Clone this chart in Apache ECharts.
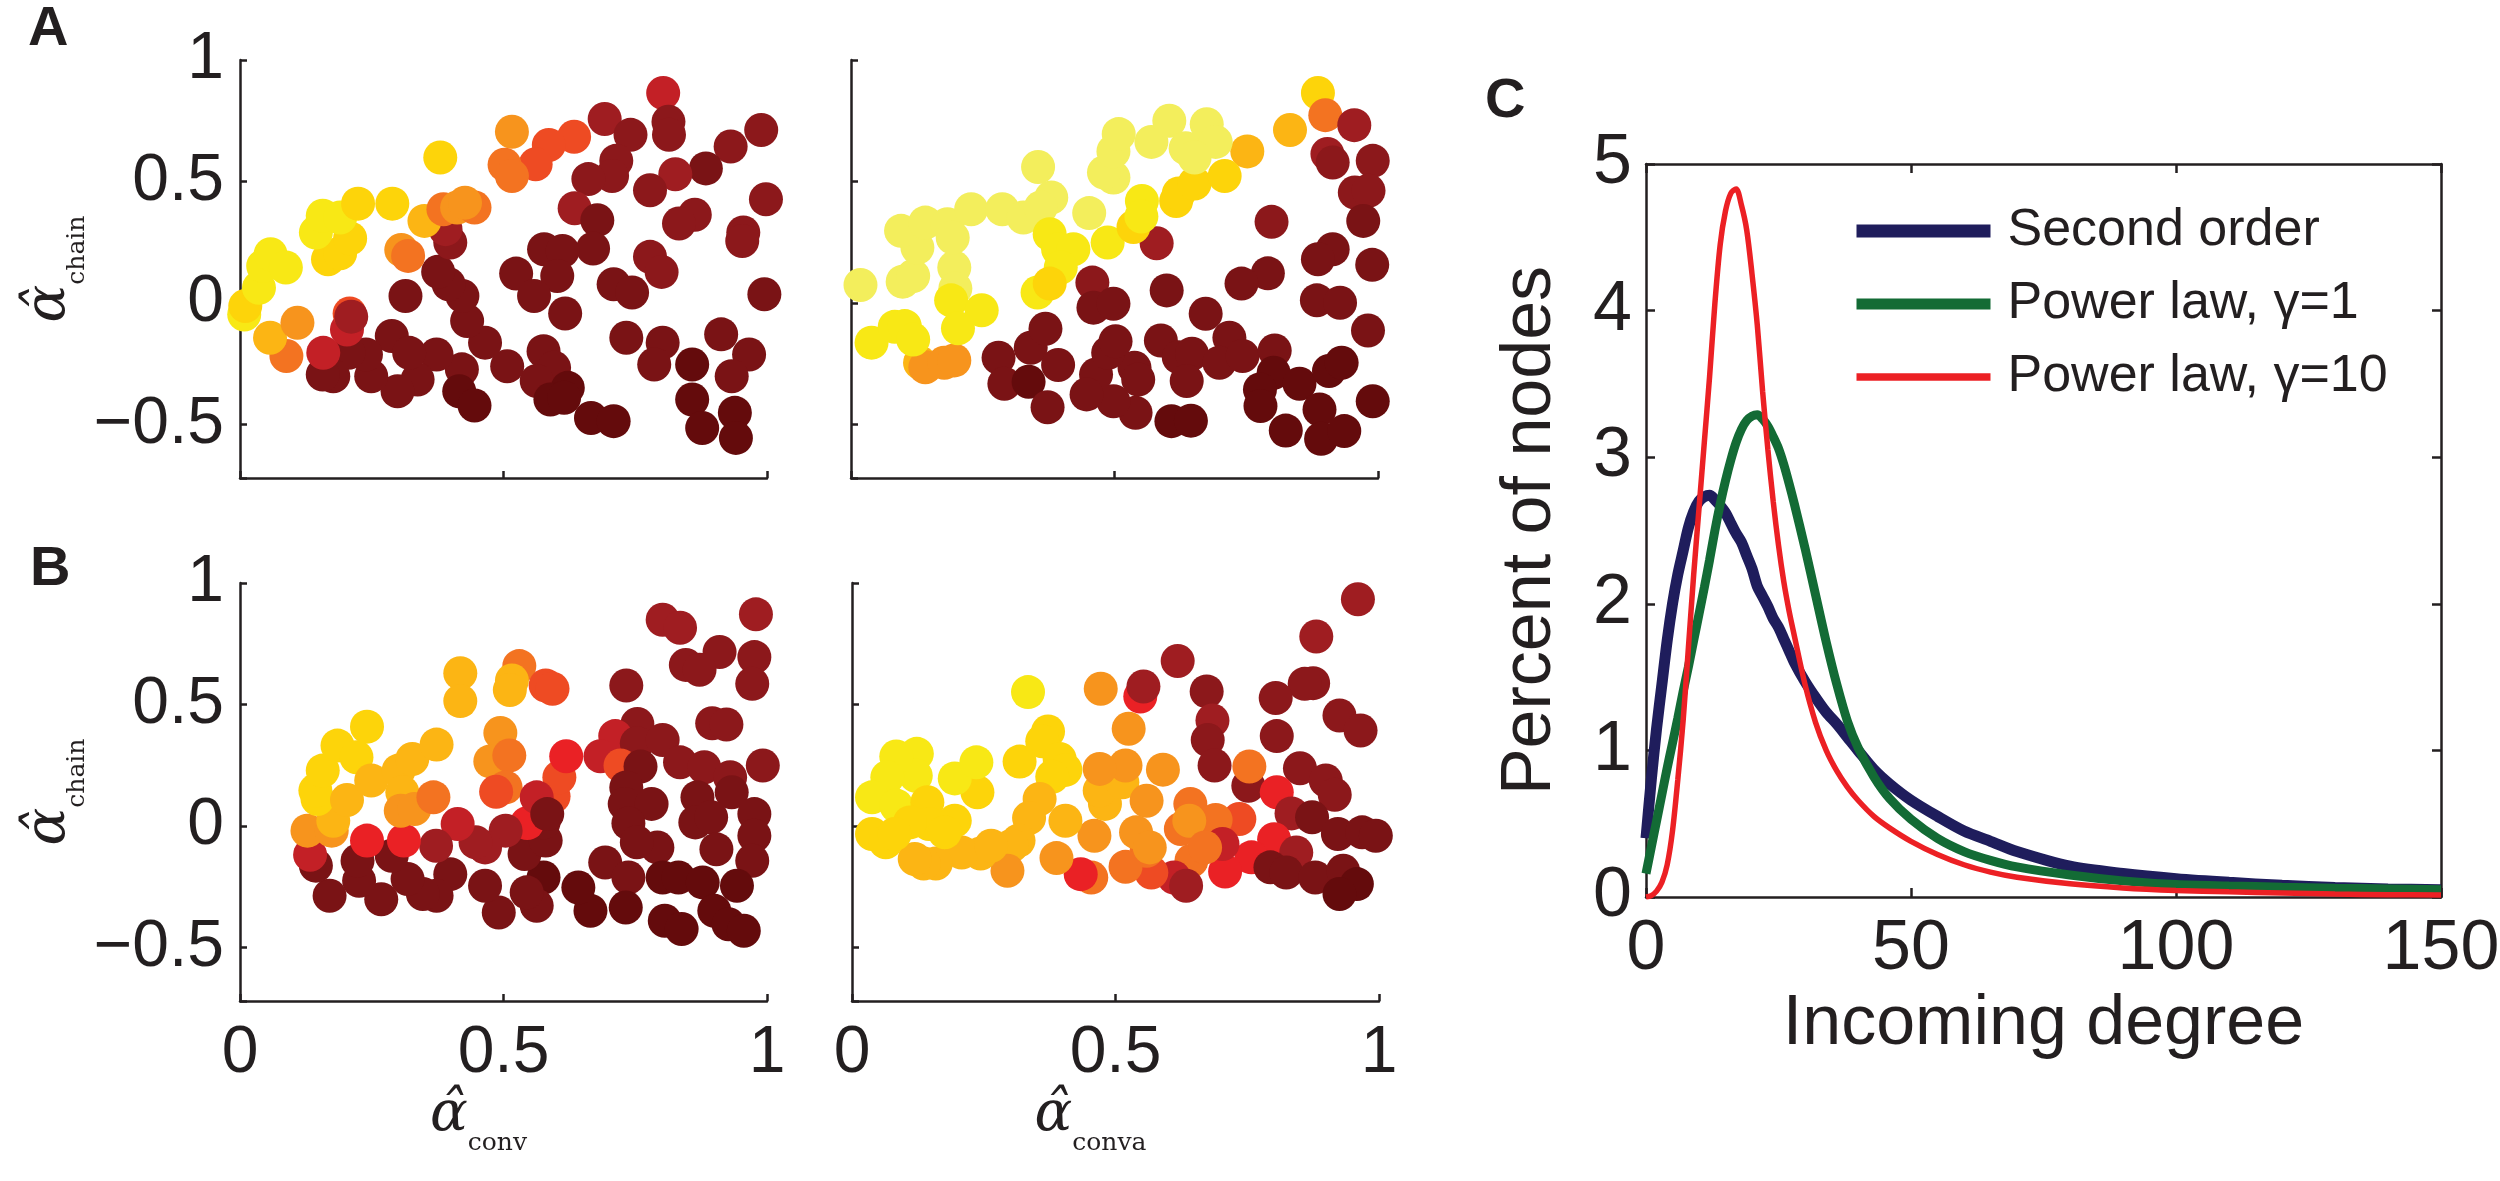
<!DOCTYPE html>
<html>
<head>
<meta charset="utf-8">
<script src="https://cdn.jsdelivr.net/npm/echarts@6/dist/echarts.min.js"></script>
<style>
html,body{margin:0;padding:0;background:#fff}
#chart{width:2500px;height:1181px}
</style>
</head>
<body>
<div id="chart"></div>
<script>
// panel A left: alpha_conv vs alpha_chain, colour level 0 (dark red) .. 12 (pale yellow)
var aConvX = [0.803,0.692,0.741,0.813,0.814,0.989,0.931,0.884,0.826,0.778,
  0.714,0.706,0.661,0.635,0.678,0.634,0.586,0.561,0.516,0.502,
  0.516,0.998,0.863,0.833,0.955,0.953,0.670,0.577,0.612,0.602,
  0.524,0.558,0.617,0.778,0.800,0.709,0.744,0.995,0.733,0.802,
  0.786,0.858,0.913,0.966,0.933,0.858,0.877,0.939,0.941,0.666,
  0.709,0.576,0.596,0.563,0.622,0.589,0.615,0.507,0.465,0.431,
  0.422,0.396,0.376,0.399,0.390,0.314,0.421,0.416,0.445,0.373,
  0.337,0.299,0.288,0.321,0.249,0.239,0.206,0.177,0.157,0.158,
  0.203,0.208,0.211,0.088,0.057,0.109,0.008,0.010,0.036,0.044,
  0.058,0.087,0.167,0.190,0.209,0.144,0.157,0.190,0.224,0.289,
  0.380,0.306,0.319,0.350,0.386,0.412,0.445,0.427];
var aConvY = [0.864,0.757,0.692,0.746,0.692,0.712,0.644,0.554,0.530,0.464,
  0.585,0.523,0.510,0.390,0.341,0.684,0.650,0.571,0.705,0.569,
  0.523,0.427,0.363,0.327,0.290,0.255,0.224,0.221,0.214,0.111,
  0.121,0.029,-0.043,0.190,0.128,0.077,0.043,0.036,-0.143,-0.163,
  -0.253,-0.253,-0.129,-0.212,-0.301,-0.397,-0.514,-0.452,-0.555,-0.473,
  -0.486,-0.198,-0.266,-0.321,-0.349,-0.397,-0.390,-0.260,-0.163,-0.074,
  0.029,0.077,0.129,0.249,0.304,0.029,-0.273,-0.363,-0.422,-0.212,
  -0.315,-0.363,-0.136,-0.205,-0.301,-0.212,-0.205,-0.301,-0.294,-0.205,
  -0.109,-0.043,-0.056,-0.218,-0.143,-0.081,-0.047,-0.012,0.063,0.152,
  0.201,0.146,0.180,0.205,0.266,0.290,0.359,0.352,0.409,0.409,
  0.599,0.218,0.194,0.338,0.386,0.393,0.393,0.413];
var aConvC = [4,3,2,2,2,2,2,1,3,2, 2,2,2,3,1,6,6,6,8,7, 7,2,2,2,2,2,1,1,1,1,
  1,1,1,2,2,1,1,1,1,1, 1,0,1,1,1,0,0,0,0,0, 0,1,1,1,0,0,0,1,1,1,
  1,1,1,2,3,1,1,0,0,1, 1,1,1,1,1,1,1,1,1,4, 4,6,3,7,9,8,11,10,11,11,
  11,11,10,10,10,11,11,11,10,10, 10,8,7,9,7,8,7,8];

// panel A right: alpha_conva vs alpha_chain
var aConvaX = [0.886,0.900,0.955,0.833,0.752,0.904,0.914,0.990,0.956,0.982,
  0.972,0.989,0.914,0.886,0.798,0.791,0.741,0.884,0.928,0.981,
  0.599,0.580,0.458,0.460,0.498,0.673,0.588,0.622,0.647,0.718,
  0.699,0.743,0.804,0.802,0.776,0.777,0.851,0.907,0.931,0.889,
  0.825,0.892,0.936,0.990,0.608,0.645,0.637,0.538,0.545,0.540,
  0.498,0.465,0.447,0.488,0.502,0.280,0.291,0.337,0.341,0.369,
  0.393,0.373,0.131,0.141,0.177,0.196,0.039,0.083,0.102,0.118,
  0.018,0.098,0.118,0.196,0.198,0.190,0.248,0.203,0.126,0.095,
  0.141,0.183,0.193,0.228,0.287,0.327,0.355,0.380,0.360,0.377,
  0.393,0.422,0.398,0.354,0.377,0.452,0.487,0.536,0.552,0.551,
  0.617,0.622,0.652,0.709,0.498,0.480,0.498,0.508,0.570,0.604,
  0.635,0.675,0.692,0.652];
var aConvaY = [0.864,0.773,0.732,0.712,0.624,0.613,0.578,0.585,0.455,0.462,
  0.338,0.157,0.221,0.180,0.334,0.122,0.080,0.011,0.001,-0.113,
  0.052,0.246,0.084,-0.019,-0.003,-0.044,-0.154,-0.223,-0.209,-0.143,
  -0.246,-0.218,-0.195,-0.287,-0.356,-0.424,-0.332,-0.280,-0.246,-0.438,
  -0.525,-0.559,-0.527,-0.404,-0.486,-0.484,-0.321,-0.266,-0.315,-0.452,
  -0.404,-0.294,-0.376,-0.205,-0.157,-0.225,-0.332,-0.324,-0.184,-0.106,
  -0.255,-0.429,-0.246,-0.264,-0.246,-0.236,-0.163,-0.098,-0.095,-0.150,
  0.074,0.088,0.111,0.146,0.060,0.011,-0.030,-0.104,0.228,0.297,
  0.331,0.324,0.269,0.386,0.386,0.352,0.560,0.434,0.393,0.283,
  0.221,0.221,0.146,0.043,0.080,0.370,0.249,0.313,0.420,0.356,
  0.420,0.451,0.492,0.523,0.516,0.537,0.624,0.695,0.663,0.750,
  0.637,0.736,0.663,0.599];
var aConvaC = [10,7,3,9,9,3,2,2,2,2, 1,1,1,1,2,1,1,1,1,1, 1,3,2,1,1,1,1,1,1,1,
  1,1,1,0,0,0,0,0,0,0, 0,0,0,0,0,0,1,1,1,1, 1,1,1,1,1,1,1,0,1,1,
  1,1,9,8,8,8,11,11,11,11, 12,12,12,12,12,11,11,11,12,12, 12,12,12,12,12,12,12,12,12,11,
  11,11,11,11,10,12,11,10,11,11, 10,10,10,10,12,12,12,12,12,12, 12,12,12,12];

// panel B left
var bConvX = [0.802,0.835,0.979,0.910,0.846,0.872,0.976,0.972,0.733,0.896,
  0.923,0.754,0.712,0.753,0.802,0.684,0.722,0.760,0.835,0.881,
  0.930,0.992,0.933,0.868,0.733,0.730,0.781,0.737,0.864,0.894,
  0.976,0.976,0.904,0.792,0.753,0.693,0.972,0.737,0.802,0.832,
  0.878,0.943,0.900,0.806,0.838,0.927,0.956,0.732,0.665,0.642,
  0.576,0.563,0.544,0.491,0.465,0.540,0.580,0.576,0.545,0.504,
  0.465,0.447,0.413,0.399,0.372,0.373,0.347,0.318,0.288,0.311,
  0.268,0.226,0.223,0.241,0.170,0.144,0.133,0.128,0.174,0.177,
  0.147,0.143,0.157,0.185,0.221,0.241,0.203,0.249,0.301,0.327,
  0.373,0.308,0.305,0.331,0.367,0.418,0.418,0.530,0.516,0.512,
  0.580,0.593,0.494,0.475,0.511,0.504,0.486,0.595,0.606,0.619,
  0.563,0.583];
var bConvY = [0.849,0.816,0.871,0.716,0.663,0.643,0.695,0.585,0.578,0.423,
  0.418,0.420,0.370,0.341,0.354,0.287,0.249,0.245,0.262,0.242,
  0.201,0.249,0.139,0.118,0.159,0.091,0.091,0.011,0.015,0.036,
  0.049,-0.040,-0.096,-0.088,-0.067,-0.150,-0.143,-0.212,-0.212,-0.212,
  -0.232,-0.246,-0.349,-0.390,-0.424,-0.404,-0.431,-0.335,-0.349,-0.253,
  -0.212,-0.328,-0.273,-0.356,-0.246,-0.115,-0.060,0.015,0.012,-0.019,
  -0.088,-0.067,0.008,-0.198,-0.081,-0.287,-0.280,-0.218,-0.122,-0.060,
  -0.301,-0.225,-0.143,-0.060,-0.287,-0.163,-0.118,-0.019,-0.019,0.022,
  0.111,0.146,0.228,0.331,0.283,0.409,0.107,0.187,0.228,0.276,
  0.335,0.139,0.063,0.070,0.118,0.629,0.514,0.658,0.599,0.560,
  0.578,0.565,0.383,0.266,0.290,0.159,0.141,0.122,0.201,0.287,
  0.118,0.049];
var bConvC = [3,3,3,2,2,2,2,2,2,2, 2,2,4,2,2,4,6,1,2,2, 2,2,1,1,1,1,1,1,1,1,
  1,1,1,1,1,1,1,1,0,0, 0,0,0,0,0,0,0,0,0,0, 0,1,1,1,1,1,1,1,5,3,
  3,3,4,1,3,1,1,1,1,5, 1,1,1,5,1,1,4,8,8,9, 10,10,10,10,10,10,9,9,9,9,
  9,9,8,8,7,9,9,7,9,9, 6,6,8,8,7,7,6,6,6,5, 4,1];

// panel B right
var bConvaX = [0.960,0.881,0.618,0.875,0.859,0.804,0.673,0.684,0.675,0.688,
  0.806,0.925,0.965,0.850,0.899,0.916,0.752,0.754,0.806,0.834,
  0.873,0.922,0.968,0.994,0.801,0.843,0.758,0.708,0.794,0.824,
  0.879,0.932,0.958,0.925,0.735,0.690,0.642,0.624,0.640,0.644,
  0.611,0.634,0.703,0.670,0.568,0.559,0.519,0.454,0.434,0.388,
  0.460,0.480,0.470,0.513,0.559,0.539,0.565,0.590,0.519,0.470,
  0.472,0.547,0.553,0.525,0.334,0.372,0.361,0.318,0.394,0.405,
  0.380,0.356,0.336,0.405,0.316,0.303,0.295,0.244,0.208,0.159,
  0.136,0.119,0.195,0.238,0.195,0.236,0.123,0.121,0.084,0.067,
  0.038,0.084,0.143,0.146,0.110,0.038,0.064,0.081,0.176,0.264];
var bConvaY = [0.933,0.780,0.679,0.588,0.585,0.527,0.554,0.434,0.354,0.249,
  0.370,0.455,0.393,0.238,0.187,0.129,0.166,0.245,0.139,0.052,
  0.036,-0.033,-0.026,-0.040,-0.054,-0.109,-0.129,-0.187,-0.170,-0.191,
  -0.212,-0.184,-0.239,-0.280,0.029,0.025,0.091,-0.012,0.022,-0.143,
  -0.212,-0.246,-0.074,-0.088,-0.191,-0.102,-0.168,-0.212,-0.198,-0.132,
  -0.040,0.091,0.146,0.180,0.104,-0.026,-0.088,0.232,0.249,0.235,
  0.565,0.533,0.574,0.400,0.551,0.389,0.349,0.265,0.276,0.231,
  0.203,0.111,0.033,0.022,-0.060,-0.081,-0.184,-0.113,-0.109,-0.154,
  -0.154,-0.136,0.022,0.139,0.196,0.262,0.297,0.207,0.286,0.201,
  0.118,0.084,0.098,0.008,0.015,-0.033,-0.067,-0.033,-0.026,-0.081];
var bConvaC = [3,3,3,2,2,2,2,3,2,2, 2,2,2,2,2,2,2,7,5,3, 1,1,1,1,5,3,5,5,1,1,
  1,1,0,0,6,7,7,7,8,7, 4,3,4,7,6,7,7,7,5,8, 8,9,9,9,8,8,8,8,8,8,
  8,5,3,8,11,10,10,10,10,10, 10,9,9,9,9,9,8,9,9,9, 9,9,10,10,11,11,11,11,11,11,
  11,11,10,10,10,10,10,10,10,9];

// panel C: percent of nodes against incoming degree
var degree = [0,1,2,3,4,5,6,7,8,9,10,11,12,13,14,15,16,17,18,19,20,21,22,23,24,25,26,27,28,
  30,32,34,36,38,40,43,46,50,55,60,65,70,80,90,100,110,120,130,140,150];
var secondOrder = [0.40,0.80,1.15,1.45,1.75,2.00,2.20,2.36,2.52,2.63,2.70,2.73,2.74,2.71,2.67,
  2.62,2.55,2.48,2.42,2.33,2.24,2.12,2.05,1.98,1.90,1.84,1.76,1.68,1.60,
  1.47,1.36,1.26,1.18,1.09,1.00,0.87,0.77,0.66,0.55,0.45,0.38,0.31,0.21,0.16,0.125,0.10,0.08,0.065,0.055,0.05];
var powerLaw1 = [0.16,0.34,0.52,0.70,0.88,1.05,1.22,1.40,1.57,1.75,1.93,2.11,2.30,2.50,2.68,
  2.84,2.98,3.10,3.19,3.25,3.28,3.29,3.26,3.21,3.14,3.06,2.95,2.82,2.68,
  2.38,2.06,1.74,1.45,1.20,1.02,0.82,0.67,0.53,0.40,0.31,0.25,0.205,0.15,0.11,0.085,0.075,0.067,0.06,0.055,0.05];
var powerLaw10 = [0,0.01,0.04,0.10,0.22,0.45,0.80,1.20,1.70,2.20,2.65,3.10,3.55,4.05,4.45,
  4.68,4.80,4.83,4.72,4.55,4.25,3.90,3.45,3.05,2.70,2.40,2.15,1.95,1.78,
  1.45,1.19,1.00,0.86,0.75,0.66,0.55,0.47,0.38,0.29,0.22,0.17,0.135,0.09,0.062,0.045,0.035,0.027,0.02,0.016,0.013];
var lineNames = ['Second order', 'Power law, γ=1', 'Power law, γ=10'];
var lineColors = ['#1f1d5c', '#136b35', '#ec2024'];
var lineWidths = [11, 9, 5.5];

var ink = '#231f20';
var sans = '"Liberation Sans", Arial, sans-serif';

function points(xs, ys, cs) {
    var out = [];
    for (var i = 0; i < xs.length; i++) {
        out.push([xs[i], ys[i], cs[i]]);
    }
    return out;
}

function pairs(xs, ys) {
    var out = [];
    for (var i = 0; i < xs.length; i++) {
        out.push([xs[i], ys[i]]);
    }
    return out;
}

function halfLabel(v) {
    if (Math.abs(v * 2 - Math.round(v * 2)) > 1e-6) return '';
    return v < 0 ? '\u2212' + (-v) : String(v);
}

var mathRich = {
    a: {fontFamily: '"DejaVu Serif", serif', fontStyle: 'italic', fontSize: 56, color: ink,
        verticalAlign: 'bottom', padding: [0, 0, 12, 0]},
    s: {fontFamily: '"DejaVu Serif", serif', fontSize: 25, color: ink, verticalAlign: 'bottom'}
};

function scatterX(idx, showLabel, sub) {
    var ax = {
        gridIndex: idx, type: 'value', min: 0, max: 1, interval: 0.5,
        axisLine: {onZero: false, lineStyle: {color: ink, width: 2.5}},
        axisTick: {inside: true, length: 7, lineStyle: {color: ink, width: 2.5}},
        axisLabel: {show: showLabel, fontSize: 66, color: ink, fontFamily: sans, margin: 20,
            formatter: halfLabel},
        splitLine: {show: false}
    };
    if (sub) {
        ax.name = '{a|α\u0302}{s|' + sub + '}';
        ax.nameLocation = 'middle';
        ax.nameGap = 80;
        ax.nameTextStyle = {rich: mathRich, padding: [0, 50, 0, 0]};
    }
    return ax;
}

function scatterY(idx, showLabel) {
    var ax = {
        gridIndex: idx, type: 'value', min: -0.72, max: 1, splitNumber: 3,
        axisLine: {onZero: false, lineStyle: {color: ink, width: 2.5}},
        axisTick: {inside: true, length: 7, lineStyle: {color: ink, width: 2.5}},
        axisLabel: {show: showLabel, fontSize: 66, color: ink, fontFamily: sans, margin: 16,
            formatter: halfLabel},
        splitLine: {show: false}
    };
    if (showLabel) {
        ax.name = '{a|α\u0302}{s|chain}';
        ax.nameLocation = 'middle';
        ax.nameRotate = 90;
        ax.nameGap = 150;
        ax.nameTextStyle = {rich: mathRich};
    }
    return ax;
}

function boxAxis(idx, pos, min, max, interval, showLabel) {
    return {
        gridIndex: idx, type: 'value', position: pos, min: min, max: max, interval: interval,
        axisLine: {onZero: false, lineStyle: {color: ink, width: 2.5}},
        axisTick: {inside: true, length: 9, lineStyle: {color: ink, width: 2.5}},
        axisLabel: {show: showLabel, fontSize: 70, color: ink, fontFamily: sans, margin: 16},
        splitLine: {show: false}
    };
}

function scatterSeries(idx, data) {
    return {
        type: 'scatter', xAxisIndex: idx, yAxisIndex: idx, data: data,
        symbolSize: 34, clip: false, itemStyle: {opacity: 1}
    };
}

function lineSeries(i, values) {
    return {
        name: lineNames[i], type: 'line', xAxisIndex: 4, yAxisIndex: 4,
        symbol: 'none', smooth: 0.3, data: pairs(degree, values),
        lineStyle: {color: lineColors[i], width: lineWidths[i]},
        itemStyle: {color: lineColors[i]}
    };
}

var legendData = [];
for (var i = 0; i < lineNames.length; i++) {
    legendData.push({
        name: lineNames[i],
        itemStyle: {opacity: 0},
        lineStyle: {color: lineColors[i], width: lineWidths[i] + 2}
    });
}

var cx = boxAxis(4, 'bottom', 0, 150, 50, true);
cx.axisLabel.margin = 18;
cx.name = 'Incoming degree';
cx.nameLocation = 'middle';
cx.nameGap = 88;
cx.nameTextStyle = {fontSize: 70, color: ink, fontFamily: sans};

var cy = boxAxis(4, 'left', 0, 5, 1, true);
cy.axisLabel.margin = 14;
cy.name = 'Percent of nodes';
cy.nameLocation = 'middle';
cy.nameRotate = 90;
cy.nameGap = 80;
cy.nameTextStyle = {fontSize: 70, color: ink, fontFamily: sans};

var chart = echarts.init(document.getElementById('chart'));
var option = {
    animation: false,
    backgroundColor: '#fff',
    grid: [
        {left: 240, top: 60, width: 527, height: 418, outerBoundsMode: 'none'},
        {left: 851, top: 60, width: 527, height: 418, outerBoundsMode: 'none'},
        {left: 240, top: 583, width: 527, height: 418, outerBoundsMode: 'none'},
        {left: 852, top: 583, width: 527, height: 418, outerBoundsMode: 'none'},
        {left: 1646, top: 164, width: 795, height: 733, outerBoundsMode: 'none'}
    ],
    xAxis: [
        scatterX(0, false), scatterX(1, false),
        scatterX(2, true, 'conv'), scatterX(3, true, 'conva'),
        cx, boxAxis(4, 'top', 0, 150, 50, false)
    ],
    yAxis: [
        scatterY(0, true), scatterY(1, false), scatterY(2, true), scatterY(3, false),
        cy, boxAxis(4, 'right', 0, 5, 1, false)
    ],
    visualMap: {
        type: 'continuous', show: false, min: 0, max: 12, dimension: 2,
        seriesIndex: [0, 1, 2, 3],
        inRange: {color: ['#640b0c', '#7a1315', '#8c181b', '#9f1d21', '#c32026', '#ea2125',
            '#ee4b23', '#f37321', '#f7941d', '#fcb514', '#fdd40a', '#f8e815', '#f3ee5c']}
    },
    legend: {
        left: 1850, top: 201, orient: 'vertical', padding: 0,
        itemWidth: 134, itemHeight: 14, itemGap: 13,
        itemStyle: {opacity: 0},
        textStyle: {fontSize: 52, lineHeight: 60, color: ink, fontFamily: sans, padding: [0, 0, 0, 12]},
        data: legendData
    },
    graphic: [
        {type: 'text', left: 28, top: 2, style: {text: 'A', font: 'bold 56px "Liberation Sans"', fill: ink}},
        {type: 'text', left: 30, top: 542, style: {text: 'B', font: 'bold 56px "Liberation Sans"', fill: ink}},
        {type: 'text', left: 1485, top: 74, style: {text: 'C', font: 'bold 56px "Liberation Sans"', fill: ink}}
    ],
    series: [
        scatterSeries(0, points(aConvX, aConvY, aConvC)),
        scatterSeries(1, points(aConvaX, aConvaY, aConvaC)),
        scatterSeries(2, points(bConvX, bConvY, bConvC)),
        scatterSeries(3, points(bConvaX, bConvaY, bConvaC)),
        lineSeries(0, secondOrder),
        lineSeries(1, powerLaw1),
        lineSeries(2, powerLaw10)
    ]
};
chart.setOption(option);
</script>
</body>
</html>
